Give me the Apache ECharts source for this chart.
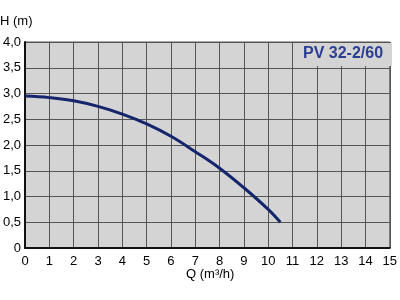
<!DOCTYPE html>
<html>
<head>
<meta charset="utf-8">
<script src="https://cdn.jsdelivr.net/npm/echarts@6/dist/echarts.min.js"></script>
<style>
  html, body { margin: 0; padding: 0; background: #fff; }
  #chart { width: 400px; height: 300px; }
</style>
</head>
<body>
<div id="chart"></div>
<script>
// flow Q (m3/h) and head H (m)
const flowQ = [0, 1, 2, 3, 4, 5, 6, 7, 8, 9, 10, 10.5];
const headH = [2.95, 2.92, 2.86, 2.75, 2.6, 2.41, 2.17, 1.87, 1.55, 1.17, 0.75, 0.5];
const pumpName = 'PV 32-2/60';

const fmtComma = (v) => v === 0 ? '0' : v.toFixed(1).replace('.', ',');

const chart = echarts.init(document.getElementById('chart'));

const option = {
  animation: false,
  textStyle: { fontFamily: 'Liberation Sans, Arial, sans-serif' },
  grid: {
    left: 25, right: 7, top: 42, bottom: 52,
    show: true,
    backgroundColor: '#d4d4d4',
    borderColor: '#555',
    borderWidth: 1
  },
  graphic: [
    { type: 'text', left: 0, top: 15, style: { text: 'H (m)', fontSize: 13, fill: '#000', fontFamily: 'Liberation Sans' } },
    { type: 'text', left: 186, top: 268, style: { text: 'Q (m³/h)', fontSize: 13, fill: '#000', fontFamily: 'Liberation Sans' } },
    { type: 'rect', shape: { x: 294, y: 43, width: 98, height: 23 }, style: { fill: '#d4d4d4' }, z: 10 },
    { type: 'text', left: 303, top: 46, z: 11, style: { text: pumpName, fontSize: 16, fontWeight: 'bold', fill: '#2b3f92', fontFamily: 'Liberation Sans' } }
  ],
  xAxis: {
    type: 'value',
    min: 0, max: 15, interval: 1,
    axisLine: { show: true, onZero: false, lineStyle: { color: '#111', width: 2 } },
    axisTick: { show: false },
    axisLabel: { color: '#000', fontSize: 13, margin: 7 },
    splitLine: { show: true, lineStyle: { color: '#555', width: 1 } }
  },
  yAxis: {
    type: 'value',
    min: 0, max: 4, interval: 0.5,
    axisLine: { show: true, onZero: false, lineStyle: { color: '#111', width: 2 } },
    axisTick: { show: false },
    axisLabel: { color: '#000', fontSize: 13, margin: 4, formatter: fmtComma },
    splitLine: { show: true, lineStyle: { color: '#555', width: 1 } }
  },
  series: [{
    type: 'line',
    data: flowQ.map((q, i) => [q, headH[i]]),
    smooth: 0.4,
    showSymbol: false,
    lineStyle: { color: '#15256b', width: 3 }
  }]
};

chart.setOption(option);
</script>
</body>
</html>
